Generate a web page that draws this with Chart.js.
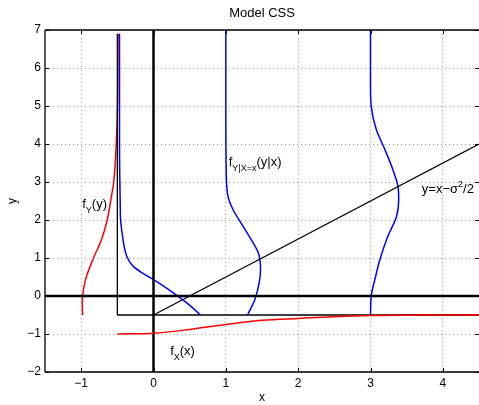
<!DOCTYPE html>
<html>
<head>
<meta charset="utf-8">
<script src="https://cdn.jsdelivr.net/npm/chart.js@4/dist/chart.umd.min.js"></script>
<style>
  body { margin: 0; background: white; }
  canvas { display: block; }
</style>
</head>
<body>
<canvas id="model-css" width="479" height="405"></canvas>
<script>
// axis ranges and tick labels
var xRange = [-1.5, 4.5];
var yRange = [-2, 7];
var xTicks = [-1, 0, 1, 2, 3, 4];
var yTicks = [-2, -1, 0, 1, 2, 3, 4, 5, 6, 7];
var sigma2 = 1;

// f_Y(y), drawn sideways from x = -1
var fYx = [-0.98, -0.985, -0.98, -0.94, -0.83, -0.72, -0.64, -0.59, -0.55, -0.515, -0.495, -0.49];
var fYy = [-0.5, -0.2, 0, 0.43, 1.0, 1.48, 2.0, 2.53, 3.0, 4.0, 5.2, 6.9];

// f_X(x), drawn from y = -1
var fXx = [-0.5, 0, 0.5, 1, 1.5, 2, 2.5, 3, 3.5, 4, 4.5];
var fXy = [-1.0, -0.98, -0.88, -0.75, -0.64, -0.59, -0.545, -0.515, -0.505, -0.5, -0.495];

// conditional densities f_Y|X=x(y|x)
var cond1x = [-0.47, -0.47, -0.465, -0.46, -0.455, -0.43, -0.40, -0.36, -0.28, -0.15, 0, 0.18, 0.37, 0.51, 0.65];
var cond1y = [6.9, 4.0, 3.0, 2.4, 2.0, 1.6, 1.25, 1.0, 0.78, 0.6, 0.43, 0.21, -0.05, -0.26, -0.5];
var cond2x = [1.0, 1.0, 1.005, 1.03, 1.10, 1.24, 1.38, 1.45, 1.48, 1.46, 1.40, 1.30];
var cond2y = [7, 5, 3.3, 2.62, 2.27, 1.83, 1.39, 1.13, 0.69, 0.34, -0.1, -0.5];
var cond3x = [3.0, 3.0, 3.01, 3.08, 3.20, 3.31, 3.38, 3.39, 3.36, 3.24, 3.13, 3.06, 3.01, 3.0];
var cond3y = [7, 5.52, 4.99, 4.38, 3.85, 3.32, 2.88, 2.53, 2.09, 1.57, 0.96, 0.43, 0, -0.5];

// text labels: [text parts, x, y]
var labels = [
    [[['f', 0], ['Y', 1], ['(y)', 0]], -0.985, 2.32],
    [[['f', 0], ['Y|X=x', 1], ['(y|x)', 0]], 1.04, 3.41],
    [[['y=x\u2212\u03c3', 0], ['2', -1], ['/2', 0]], 3.71, 2.72],
    [[['f', 0], ['X', 1], ['(x)', 0]], 0.23, -1.545]
];

var FONT = '"Liberation Sans", Arial, Helvetica, sans-serif';

function pts(xs, ys) {
    return xs.map(function (x, i) { return { x: x, y: ys[i] }; });
}

function line(data, color, width) {
    return {
        data: data,
        showLine: true,
        borderColor: color,
        backgroundColor: color,
        borderWidth: width,
        pointRadius: 0,
        tension: 0,
        fill: false
    };
}

// smooth curve, monotone along the axis it is drawn against
function curve(data, color, axis) {
    var d = line(data, color, 1.5);
    d.indexAxis = axis;
    d.cubicInterpolationMode = 'monotone';
    return d;
}

var s = sigma2 / 2;

var datasets = [
    curve(pts(fXx, fXy), '#ff0000', 'x'),
    line([{ x: xRange[0], y: 0 }, { x: xRange[1], y: 0 }], '#000', 2.5),
    line([{ x: 0, y: yRange[0] }, { x: 0, y: yRange[1] }], '#000', 2.5),
    line([{ x: 0, y: -s }, { x: xRange[1], y: xRange[1] - s }], '#000', 1.3),
    curve(pts(cond3x, cond3y), '#0000ff', 'y'),
    curve(pts(cond2x, cond2y), '#0000ff', 'y'),
    curve(pts(cond1x, cond1y), '#0000ff', 'y'),
    line([{ x: -s, y: -s }, { x: -s, y: 6.9 }], '#000', 1.3),
    line([{ x: -s, y: -s }, { x: xRange[1], y: -s }], '#000', 1.3),
    curve(pts(fYx, fYy), '#ff0000', 'y')
];

// box, inward ticks and the text labels
var decorations = {
    id: 'decorations',
    afterDatasetsDraw: function (chart) {
        var ctx = chart.ctx;
        var a = chart.chartArea;
        var xs = chart.scales.x, ys = chart.scales.y;
        ctx.save();
        ctx.strokeStyle = '#000';
        ctx.lineWidth = 1.3;
        ctx.beginPath();
        ctx.moveTo(a.left, a.top); ctx.lineTo(a.right, a.top);
        ctx.moveTo(a.left, a.top); ctx.lineTo(a.left, a.bottom);
        ctx.moveTo(a.left, a.bottom); ctx.lineTo(a.right, a.bottom);
        ctx.stroke();
        ctx.lineWidth = 1;
        ctx.beginPath();
        xs.ticks.forEach(function (t) {
            var px = Math.round(xs.getPixelForValue(t.value)) + 0.5;
            ctx.moveTo(px, a.bottom); ctx.lineTo(px, a.bottom - 4);
            ctx.moveTo(px, a.top); ctx.lineTo(px, a.top + 4);
        });
        ys.ticks.forEach(function (t) {
            var py = Math.round(ys.getPixelForValue(t.value)) + 0.5;
            ctx.moveTo(a.left, py); ctx.lineTo(a.left + 4, py);
            ctx.moveTo(a.right, py); ctx.lineTo(a.right - 4, py);
        });
        ctx.stroke();

        ctx.fillStyle = '#000';
        ctx.textBaseline = 'alphabetic';
        ctx.textAlign = 'left';
        labels.forEach(function (lab) {
            var px = xs.getPixelForValue(lab[1]);
            var py = ys.getPixelForValue(lab[2]);
            lab[0].forEach(function (part) {
                var shift = part[1];
                ctx.font = (shift === 0 ? '13px ' : '9px ') + FONT;
                var dy = shift === 1 ? 5 : (shift === -1 ? -6 : 0);
                ctx.fillText(part[0], px, py + dy);
                px += ctx.measureText(part[0]).width;
            });
        });
        ctx.restore();
    }
};

function minus(v) {
    return String(v).replace('-', '\u2212');
}

function setTicks(values) {
    return function (sc) {
        sc.ticks = values.map(function (v) { return { value: v }; });
    };
}

var modelCss = document.getElementById('model-css').getContext('2d');
var modelCssChart = new Chart(modelCss, {
    type: 'scatter',
    data: { datasets: datasets },
    options: {
        responsive: false,
        animation: false,
        devicePixelRatio: 1,
        layout: { padding: 0 },
        plugins: {
            legend: { display: false },
            tooltip: { enabled: false },
            title: {
                display: true,
                text: 'Model CSS',
                color: '#000',
                fullSize: false,
                font: { family: FONT, size: 13, weight: 'normal' },
                padding: { top: 6, bottom: 8.4 }
            }
        },
        scales: {
            x: {
                type: 'linear',
                min: xRange[0],
                max: xRange[1],
                afterBuildTicks: setTicks(xTicks),
                afterFit: function (sc) { sc.height = 33; },
                ticks: {
                    color: '#000',
                    padding: 4,
                    font: { family: FONT, size: 12 },
                    callback: minus
                },
                grid: { color: '#9a9a9a', drawTicks: false, lineWidth: 1 },
                border: { display: false, dash: [1, 3] },
                title: {
                    display: true,
                    text: 'x',
                    color: '#000',
                    font: { family: FONT, size: 12 },
                    padding: { top: 0, bottom: 0 }
                }
            },
            y: {
                type: 'linear',
                min: yRange[0],
                max: yRange[1],
                afterBuildTicks: setTicks(yTicks),
                afterFit: function (sc) { sc.width = 45; },
                ticks: {
                    color: '#000',
                    padding: 4,
                    font: { family: FONT, size: 12 },
                    callback: minus
                },
                grid: { color: '#9a9a9a', drawTicks: false, lineWidth: 1 },
                border: { display: false, dash: [1, 3] },
                title: {
                    display: true,
                    text: 'y',
                    color: '#000',
                    font: { family: FONT, size: 12 },
                    padding: { top: 5, bottom: 0 }
                }
            }
        }
    },
    plugins: [decorations]
});
</script>
</body>
</html>
